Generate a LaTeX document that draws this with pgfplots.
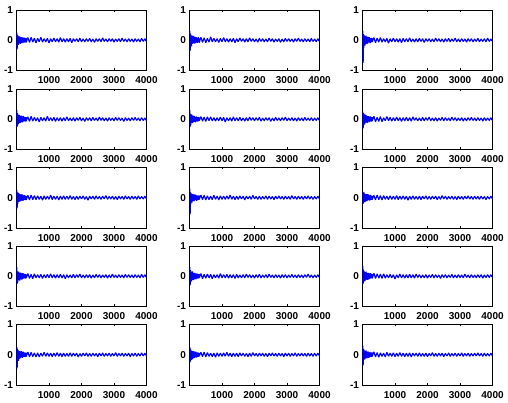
\documentclass[border=0pt]{standalone}
\usepackage{pgfplots}
\usepackage{pgfplotstable}
\pgfplotsset{compat=1.18}
\usepackage{fontspec}
\setmainfont{Liberation Sans}

% one table per panel: samples 0..300 every 10, then every 50 up to 4000
\pgfplotstableread[row sep=\\,header=false]{
0\\.25\\-.30\\.18\\-.16\\.14\\-.15\\.12\\-.10\\.13\\-.09\\.11\\-.12\\.08\\-.10\\.09\\-.07\\.10\\-.08\\.07\\-.09\\.08\\-.06\\.09\\-.07\\.06\\-.08\\.07\\-.06\\.08\\-.07\\
.09\\-.07\\.10\\-.06\\.07\\-.09\\.06\\-.05\\.10\\-.06\\.05\\-.05\\.06\\-.09\\.05\\-.05\\.07\\-.05\\.05\\-.06\\.09\\-.05\\.05\\-.06\\.05\\-.05\\.06\\-.08\\.05\\-.04\\
.05\\-.05\\.07\\-.05\\.04\\-.05\\.05\\-.04\\.06\\-.05\\.04\\-.07\\.05\\-.04\\.05\\-.05\\.08\\-.04\\.04\\-.05\\.05\\-.04\\.05\\-.06\\.04\\-.04\\.05\\-.05\\.07\\-.04\\
.04\\-.05\\.05\\-.04\\.04\\-.06\\.05\\-.04\\.04\\-.05\\.06\\-.04\\.05\\-.04\\.05\\-.04\\.04\\-.05\\.05\\-.04\\
}\tA
\pgfplotstableread[row sep=\\,header=false]{
0\\.30\\-.35\\.22\\-.18\\.16\\-.20\\.13\\-.12\\.15\\-.11\\.12\\-.10\\.14\\-.09\\.10\\-.11\\.08\\-.09\\.11\\-.07\\.09\\-.08\\.07\\-.09\\.08\\-.06\\.10\\-.07\\.06\\-.08\\
.10\\-.07\\.08\\-.08\\.06\\-.06\\.11\\-.05\\.06\\-.05\\.05\\-.07\\.06\\-.05\\.09\\-.05\\.05\\-.06\\.05\\-.05\\.06\\-.08\\.05\\-.05\\.07\\-.04\\.05\\-.06\\.05\\-.05\\
.08\\-.04\\.05\\-.05\\.04\\-.06\\.06\\-.04\\.05\\-.05\\.04\\-.05\\.07\\-.04\\.05\\-.06\\.04\\-.04\\.05\\-.07\\.04\\-.05\\.06\\-.04\\.05\\-.04\\.04\\-.06\\.05\\-.04\\
.07\\-.04\\.04\\-.05\\.05\\-.04\\.04\\-.05\\.06\\-.04\\.04\\-.05\\.05\\-.04\\.04\\-.05\\.05\\-.04\\
}\tB
\pgfplotstableread[row sep=\\,header=false]{
0\\.30\\-.75\\.20\\-.25\\.17\\-.15\\.14\\-.18\\.12\\-.11\\.15\\-.10\\.11\\-.13\\.09\\-.10\\.12\\-.08\\.09\\-.07\\.10\\-.08\\.07\\-.09\\.06\\-.07\\.08\\-.06\\.07\\-.06\\
.09\\-.08\\.07\\-.06\\.09\\-.06\\.05\\-.05\\.06\\-.10\\.05\\-.05\\.07\\-.05\\.05\\-.06\\.05\\-.08\\.06\\-.05\\.05\\-.05\\.08\\-.05\\.04\\-.06\\.05\\-.05\\.06\\-.04\\
.05\\-.07\\.05\\-.04\\.05\\-.05\\.04\\-.05\\.07\\-.04\\.05\\-.05\\.04\\-.06\\.05\\-.04\\.06\\-.05\\.04\\-.04\\.07\\-.05\\.04\\-.05\\.05\\-.04\\.04\\-.06\\.05\\-.04\\
.05\\-.05\\.04\\-.04\\.06\\-.05\\.04\\-.04\\.05\\-.05\\.07\\-.04\\.04\\-.04\\.05\\-.04\\.04\\-.05\\.05\\-.04\\
}\tC
\pgfplotstableread[row sep=\\,header=false]{
0\\.30\\-.25\\.20\\-.18\\.15\\-.16\\.12\\-.13\\.14\\-.10\\.11\\-.12\\.09\\-.10\\.12\\-.08\\.09\\-.10\\.08\\-.07\\.11\\-.08\\.07\\-.06\\.08\\-.07\\.06\\-.08\\.07\\-.06\\
.08\\-.07\\.10\\-.06\\.06\\-.05\\.05\\-.09\\.06\\-.05\\.05\\-.06\\.10\\-.05\\.05\\-.05\\.06\\-.07\\.05\\-.05\\.05\\-.06\\.05\\-.05\\.08\\-.05\\.04\\-.05\\.05\\-.06\\
.05\\-.04\\.06\\-.05\\.04\\-.07\\.05\\-.04\\.05\\-.05\\.06\\-.04\\.04\\-.05\\.07\\-.04\\.05\\-.05\\.04\\-.06\\.05\\-.04\\.04\\-.05\\.06\\-.04\\.05\\-.04\\.04\\-.07\\
.05\\-.04\\.04\\-.05\\.05\\-.04\\.06\\-.04\\.04\\-.05\\.05\\-.04\\.04\\-.05\\.05\\-.04\\.04\\-.05\\
}\tD
\pgfplotstableread[row sep=\\,header=false]{
0\\.30\\-.25\\.18\\-.20\\.14\\-.12\\.16\\-.11\\.10\\-.13\\.12\\-.09\\.10\\-.08\\.11\\-.09\\.08\\-.10\\.07\\-.08\\.09\\-.07\\.06\\-.08\\.07\\-.06\\.08\\-.07\\.06\\-.05\\
.09\\-.06\\.07\\-.07\\.08\\-.05\\.08\\-.05\\.05\\-.06\\.05\\-.05\\.07\\-.05\\.06\\-.09\\.05\\-.05\\.05\\-.06\\.08\\-.05\\.05\\-.05\\.06\\-.05\\.04\\-.06\\.05\\-.05\\
.07\\-.04\\.05\\-.05\\.05\\-.04\\.06\\-.06\\.04\\-.05\\.05\\-.04\\.05\\-.07\\.04\\-.05\\.06\\-.04\\.04\\-.05\\.05\\-.04\\.07\\-.05\\.04\\-.04\\.05\\-.05\\.04\\-.06\\
.05\\-.04\\.04\\-.05\\.06\\-.04\\.04\\-.04\\.05\\-.05\\.04\\-.04\\.05\\-.04\\.04\\-.05\\.05\\-.04\\
}\tE
\pgfplotstableread[row sep=\\,header=false]{
0\\.25\\-.30\\.20\\-.15\\.17\\-.18\\.12\\-.14\\.15\\-.10\\.13\\-.11\\.12\\-.09\\.10\\-.12\\.09\\-.08\\.10\\-.07\\.08\\-.09\\.07\\-.06\\.09\\-.07\\.06\\-.08\\.07\\-.06\\
.10\\-.08\\.06\\-.07\\.09\\-.08\\.05\\-.05\\.09\\-.05\\.06\\-.06\\.05\\-.05\\.07\\-.05\\.05\\-.07\\.05\\-.05\\.06\\-.05\\.05\\-.06\\.08\\-.04\\.05\\-.05\\.04\\-.05\\
.06\\-.05\\.05\\-.04\\.07\\-.05\\.04\\-.05\\.05\\-.06\\.04\\-.04\\.06\\-.05\\.05\\-.04\\.04\\-.05\\.07\\-.04\\.05\\-.05\\.04\\-.04\\.05\\-.06\\.04\\-.05\\.05\\-.04\\
.06\\-.04\\.04\\-.05\\.05\\-.04\\.04\\-.06\\.05\\-.04\\.04\\-.04\\.05\\-.04\\.04\\-.05\\.05\\-.04\\
}\tF
\pgfplotstableread[row sep=\\,header=false]{
0\\.25\\-.35\\.18\\-.20\\.15\\-.14\\.16\\-.12\\.11\\-.13\\.12\\-.10\\.09\\-.11\\.10\\-.08\\.12\\-.09\\.08\\-.10\\.07\\-.08\\.09\\-.07\\.08\\-.06\\.07\\-.08\\.06\\-.07\\
.08\\-.07\\.09\\-.06\\.07\\-.06\\.06\\-.05\\.05\\-.08\\.06\\-.05\\.05\\-.05\\.09\\-.06\\.05\\-.05\\.05\\-.07\\.05\\-.05\\.06\\-.05\\.05\\-.05\\.07\\-.05\\.04\\-.06\\
.05\\-.05\\.05\\-.04\\.06\\-.05\\.04\\-.08\\.05\\-.04\\.05\\-.05\\.06\\-.04\\.04\\-.05\\.05\\-.04\\.07\\-.05\\.04\\-.04\\.05\\-.05\\.04\\-.06\\.05\\-.04\\.04\\-.05\\
.06\\-.04\\.04\\-.05\\.05\\-.04\\.04\\-.05\\.06\\-.04\\.04\\-.04\\.05\\-.04\\.04\\-.05\\.05\\-.04\\
}\tG
\pgfplotstableread[row sep=\\,header=false]{
0\\.30\\-.55\\.18\\-.22\\.15\\-.14\\.12\\-.16\\.11\\-.10\\.13\\-.09\\.10\\-.12\\.08\\-.09\\.11\\-.07\\.09\\-.08\\.07\\-.10\\.08\\-.06\\.07\\-.08\\.06\\-.07\\.08\\-.06\\
.09\\-.06\\.08\\-.07\\.06\\-.06\\.05\\-.06\\.08\\-.05\\.05\\-.07\\.06\\-.05\\.05\\-.05\\.06\\-.05\\.09\\-.05\\.05\\-.06\\.05\\-.05\\.06\\-.04\\.05\\-.07\\.05\\-.04\\
.05\\-.05\\.08\\-.04\\.04\\-.05\\.05\\-.05\\.04\\-.04\\.06\\-.05\\.05\\-.04\\.04\\-.06\\.05\\-.04\\.06\\-.04\\.04\\-.05\\.05\\-.04\\.04\\-.05\\.07\\-.04\\.04\\-.05\\
.05\\-.04\\.04\\-.05\\.05\\-.04\\.06\\-.04\\.04\\-.05\\.04\\-.04\\.05\\-.04\\.04\\-.05\\.05\\-.04\\
}\tH
\pgfplotstableread[row sep=\\,header=false]{
0\\.20\\-.20\\.16\\-.15\\.18\\-.13\\.12\\-.14\\.11\\-.12\\.13\\-.10\\.09\\-.11\\.12\\-.09\\.10\\-.08\\.11\\-.07\\.08\\-.09\\.07\\-.08\\.09\\-.06\\.07\\-.07\\.06\\-.06\\
.08\\-.07\\.09\\-.06\\.07\\-.07\\.07\\-.05\\.05\\-.06\\.06\\-.05\\.05\\-.05\\.07\\-.06\\.05\\-.05\\.06\\-.05\\.05\\-.08\\.05\\-.05\\.06\\-.05\\.04\\-.05\\.05\\-.06\\
.05\\-.04\\.06\\-.05\\.04\\-.05\\.05\\-.04\\.05\\-.06\\.04\\-.05\\.07\\-.04\\.05\\-.05\\.04\\-.04\\.05\\-.05\\.04\\-.06\\.05\\-.04\\.04\\-.05\\.05\\-.04\\.06\\-.04\\
.04\\-.05\\.05\\-.04\\.04\\-.05\\.05\\-.04\\.04\\-.06\\.04\\-.04\\.05\\-.04\\.04\\-.05\\.05\\-.04\\
}\tI
\pgfplotstableread[row sep=\\,header=false]{
0\\.30\\-.25\\.16\\-.20\\.14\\-.13\\.15\\-.12\\.10\\-.14\\.11\\-.09\\.12\\-.10\\.09\\-.11\\.08\\-.09\\.10\\-.07\\.09\\-.08\\.06\\-.07\\.08\\-.06\\.07\\-.08\\.06\\-.06\\
.09\\-.07\\.06\\-.08\\.08\\-.05\\.05\\-.05\\.06\\-.07\\.05\\-.05\\.06\\-.05\\.08\\-.05\\.05\\-.06\\.05\\-.05\\.06\\-.05\\.05\\-.08\\.05\\-.05\\.04\\-.05\\.06\\-.05\\
.05\\-.04\\.07\\-.05\\.04\\-.05\\.05\\-.04\\.05\\-.06\\.04\\-.05\\.06\\-.04\\.05\\-.05\\.04\\-.04\\.05\\-.06\\.04\\-.05\\.07\\-.04\\.04\\-.05\\.05\\-.04\\.04\\-.05\\
.06\\-.04\\.05\\-.04\\.04\\-.05\\.05\\-.04\\.04\\-.05\\.06\\-.04\\.05\\-.04\\.04\\-.05\\.05\\-.04\\
}\tJ
\pgfplotstableread[row sep=\\,header=false]{
0\\.30\\-.30\\.20\\-.18\\.15\\-.17\\.13\\-.12\\.16\\-.10\\.12\\-.13\\.09\\-.10\\.11\\-.08\\.10\\-.09\\.08\\-.10\\.07\\-.08\\.09\\-.07\\.06\\-.08\\.07\\-.06\\.08\\-.06\\
.09\\-.08\\.06\\-.06\\.07\\-.05\\.06\\-.08\\.05\\-.05\\.05\\-.06\\.09\\-.05\\.05\\-.05\\.06\\-.06\\.05\\-.05\\.05\\-.07\\.06\\-.05\\.04\\-.05\\.05\\-.05\\.07\\-.04\\
.05\\-.05\\.04\\-.06\\.05\\-.04\\.06\\-.05\\.04\\-.04\\.05\\-.05\\.07\\-.04\\.04\\-.05\\.05\\-.04\\.04\\-.06\\.05\\-.04\\.05\\-.05\\.04\\-.04\\.06\\-.04\\.04\\-.05\\
.05\\-.04\\.04\\-.05\\.05\\-.04\\.07\\-.04\\.04\\-.05\\.04\\-.04\\.05\\-.04\\.04\\-.05\\.05\\-.04\\
}\tK
\pgfplotstableread[row sep=\\,header=false]{
0\\.35\\-.25\\.22\\-.18\\.17\\-.15\\.14\\-.16\\.13\\-.12\\.15\\-.10\\.12\\-.11\\.10\\-.12\\.09\\-.10\\.11\\-.08\\.09\\-.09\\.08\\-.07\\.10\\-.07\\.08\\-.06\\.07\\-.07\\
.10\\-.07\\.08\\-.06\\.07\\-.07\\.08\\-.06\\.05\\-.05\\.06\\-.05\\.05\\-.09\\.05\\-.05\\.07\\-.05\\.05\\-.06\\.05\\-.05\\.06\\-.05\\.05\\-.06\\.07\\-.04\\.05\\-.05\\
.04\\-.05\\.05\\-.06\\.04\\-.04\\.06\\-.05\\.05\\-.04\\.04\\-.07\\.05\\-.04\\.05\\-.05\\.04\\-.04\\.06\\-.05\\.04\\-.05\\.05\\-.04\\.04\\-.05\\.07\\-.04\\.04\\-.05\\
.05\\-.04\\.04\\-.05\\.05\\-.04\\.05\\-.06\\.04\\-.04\\.05\\-.04\\.05\\-.04\\.04\\-.05\\.05\\-.04\\
}\tL
\pgfplotstableread[row sep=\\,header=false]{
0\\.25\\-.45\\.20\\-.18\\.15\\-.20\\.12\\-.14\\.13\\-.11\\.10\\-.12\\.11\\-.09\\.12\\-.08\\.09\\-.10\\.08\\-.07\\.10\\-.08\\.07\\-.06\\.08\\-.07\\.06\\-.08\\.07\\-.06\\
.09\\-.07\\.08\\-.06\\.06\\-.07\\.06\\-.07\\.05\\-.05\\.08\\-.05\\.06\\-.05\\.05\\-.06\\.05\\-.05\\.07\\-.05\\.05\\-.06\\.05\\-.05\\.04\\-.05\\.06\\-.05\\.05\\-.04\\
.05\\-.07\\.04\\-.05\\.05\\-.04\\.06\\-.05\\.04\\-.05\\.05\\-.04\\.04\\-.06\\.05\\-.04\\.06\\-.05\\.04\\-.04\\.05\\-.05\\.04\\-.04\\.07\\-.05\\.04\\-.04\\.05\\-.05\\
.04\\-.04\\.05\\-.06\\.04\\-.04\\.05\\-.05\\.04\\-.04\\.06\\-.04\\.05\\-.04\\.04\\-.05\\.05\\-.04\\
}\tM
\pgfplotstableread[row sep=\\,header=false]{
0\\.25\\-.25\\.20\\-.16\\.14\\-.18\\.12\\-.10\\.13\\-.14\\.10\\-.09\\.12\\-.10\\.08\\-.11\\.09\\-.08\\.10\\-.07\\.08\\-.09\\.06\\-.07\\.08\\-.06\\.07\\-.07\\.06\\-.05\\
.08\\-.06\\.09\\-.07\\.07\\-.05\\.05\\-.06\\.05\\-.08\\.06\\-.05\\.05\\-.05\\.06\\-.05\\.08\\-.05\\.05\\-.06\\.05\\-.05\\.05\\-.06\\.06\\-.04\\.05\\-.05\\.04\\-.06\\
.05\\-.05\\.07\\-.04\\.04\\-.05\\.05\\-.04\\.05\\-.05\\.04\\-.06\\.05\\-.04\\.06\\-.04\\.04\\-.05\\.05\\-.04\\.04\\-.06\\.05\\-.04\\.05\\-.05\\.04\\-.04\\.06\\-.05\\
.04\\-.04\\.05\\-.04\\.04\\-.05\\.05\\-.04\\.04\\-.05\\.05\\-.04\\.05\\-.04\\.04\\-.05\\.05\\-.04\\
}\tN
\pgfplotstableread[row sep=\\,header=false]{
0\\.30\\-.35\\.19\\-.17\\.16\\-.15\\.13\\-.14\\.12\\-.11\\.14\\-.10\\.10\\-.12\\.09\\-.08\\.11\\-.09\\.07\\-.10\\.08\\-.07\\.09\\-.06\\.07\\-.08\\.06\\-.07\\.08\\-.06\\
.10\\-.07\\.07\\-.08\\.06\\-.05\\.05\\-.07\\.08\\-.05\\.05\\-.05\\.06\\-.06\\.05\\-.05\\.07\\-.05\\.05\\-.06\\.05\\-.05\\.06\\-.07\\.05\\-.04\\.05\\-.05\\.06\\-.05\\
.04\\-.05\\.05\\-.06\\.04\\-.04\\.07\\-.05\\.04\\-.05\\.05\\-.04\\.05\\-.06\\.04\\-.04\\.06\\-.05\\.04\\-.04\\.05\\-.05\\.04\\-.04\\.06\\-.05\\.04\\-.04\\.05\\-.05\\
.04\\-.04\\.05\\-.04\\.06\\-.04\\.04\\-.05\\.05\\-.04\\.04\\-.04\\.05\\-.04\\.04\\-.05\\.05\\-.04\\
}\tO

\pgfplotsset{
  panel/.style={
    scale only axis,
    anchor=south west,
    width=130pt, height=60.5pt,
    xmin=0, xmax=4000, ymin=-1, ymax=1,
    xtick={1000,2000,3000,4000},
    ytick={-1,0,1},
    tick align=inside,
    major tick length=2pt,
    tick style={black, line width=0.5pt},
    axis line style={black, line width=0.6pt},
    scaled x ticks=false,
    /pgf/number format/1000 sep={},
    /pgf/number format/assume math mode=true,
    tick label style={font=\bfseries\fontsize{10}{12}\selectfont},
    xticklabel style={yshift=-2.5pt},
  },
  signal/.style={blue, line width=1.15pt, line join=bevel, mark=none},
}
\newcommand{\panel}[3]{%
  \begin{axis}[panel, at={(#1pt,#2pt)}]
    \addplot[signal] table[y index=0,
      x expr={(\coordindex<31) ? (\coordindex*10) : (300+(\coordindex-30)*50)}] {#3};
  \end{axis}}

\begin{document}
\begin{tikzpicture}
\path[use as bounding box] (0,0) rectangle (508pt,403pt);

\panel{16.5}{332.5}{\tA}
\panel{189.5}{332.5}{\tB}
\panel{362.5}{332.5}{\tC}

\panel{16.5}{253.5}{\tD}
\panel{189.5}{253.5}{\tE}
\panel{362.5}{253.5}{\tF}

\panel{16.5}{175}{\tG}
\panel{189.5}{175}{\tH}
\panel{362.5}{175}{\tI}

\panel{16.5}{96.5}{\tJ}
\panel{189.5}{96.5}{\tK}
\panel{362.5}{96.5}{\tL}

\panel{16.5}{18}{\tM}
\panel{189.5}{18}{\tN}
\panel{362.5}{18}{\tO}

\end{tikzpicture}
\end{document}
